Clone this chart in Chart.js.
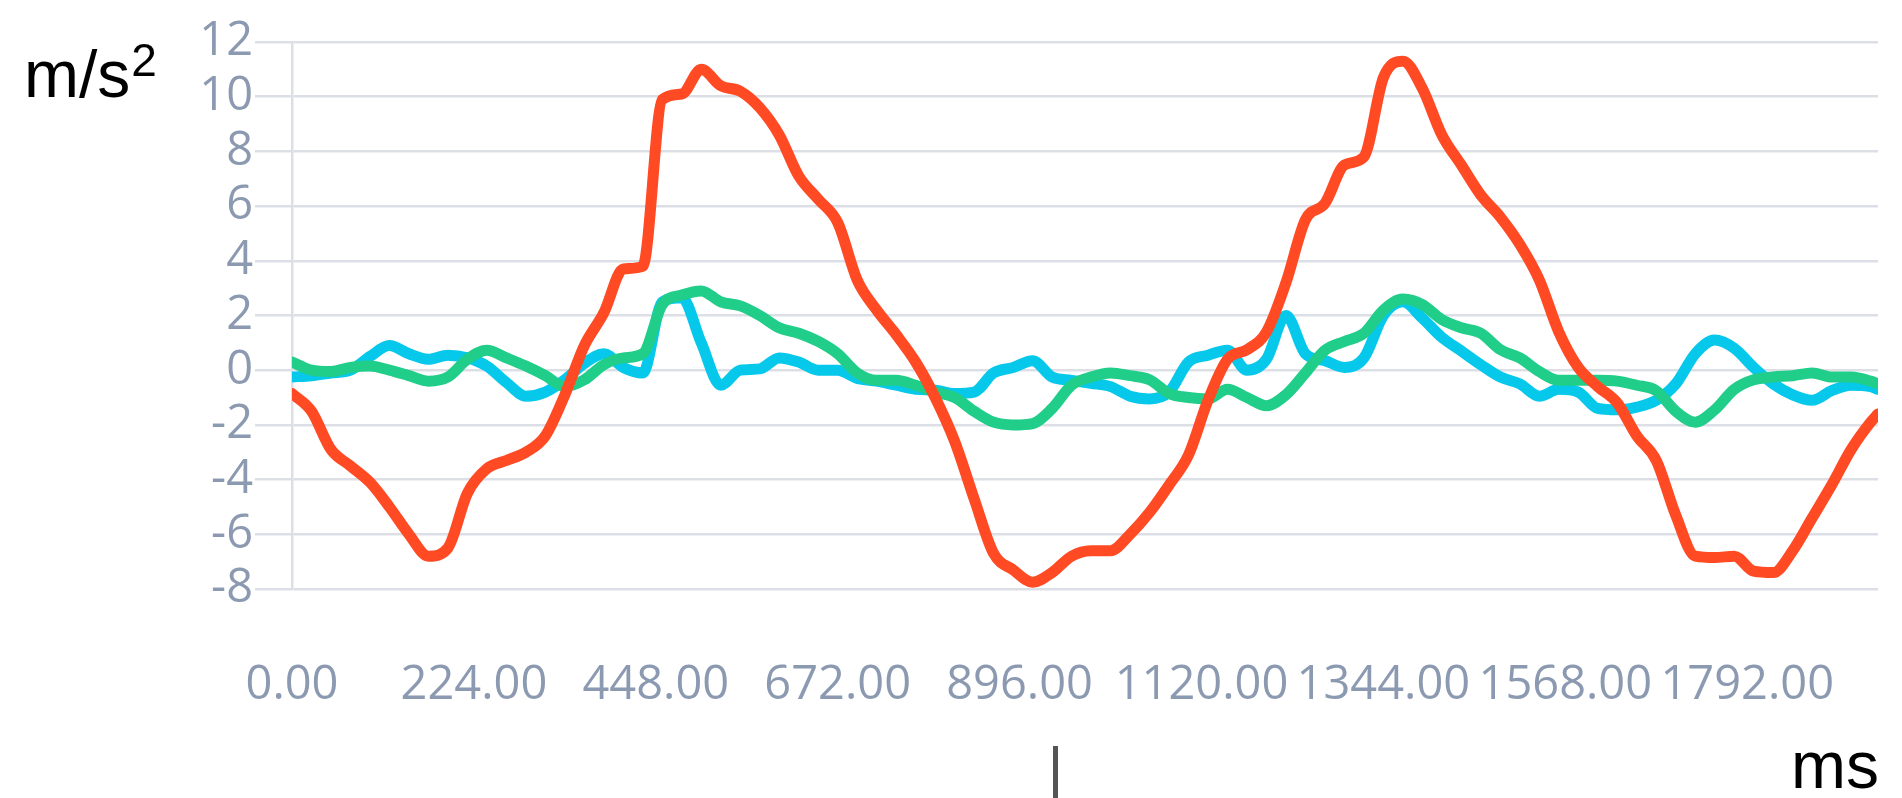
<!DOCTYPE html>
<html>
<head>
<meta charset="utf-8">
<title>Acceleration</title>
<script src="https://cdn.jsdelivr.net/npm/chart.js@4.4.1/dist/chart.umd.min.js"></script>
<style>
    html, body { margin: 0; padding: 0; background: #fff; overflow: hidden; }
    #wrap { position: relative; width: 1902px; height: 798px; }
    #graph { position: absolute; left: 0; top: 0; }
    .unit {
        position: absolute;
        font-family: "Liberation Sans", Arial, sans-serif;
        font-size: 66px;
        line-height: 1;
        color: #000;
        white-space: nowrap;
    }
    .unit .sup { font-size: 46px; position: relative; top: -21px; margin-left: 1px; }
    #unitY { left: 24px; top: 41px; }
    #unitX { left: 1791px; top: 732px; }
    #caret { position: absolute; left: 1053px; top: 746px; width: 5px; height: 52px; background: #555; }
</style>
</head>
<body>
<div id="wrap">
    <canvas id="graph" width="1902" height="798"></canvas>
    <div class="unit" id="unitY">m/s<span class="sup">2</span></div>
    <div class="unit" id="unitX">ms</div>
    <div id="caret"></div>
</div>
<script>
// sample times (ms)
const timesMs = [0, 24, 48, 72, 96, 120, 144, 168, 192, 216, 240, 264, 288, 312, 336, 360, 384, 408, 432, 456,
    480, 504, 528, 552, 576, 600, 624, 648, 672, 696, 720, 744, 768, 792, 816, 840, 864, 888, 912, 936,
    960, 984, 1008, 1032, 1056, 1080, 1104, 1128, 1152, 1176, 1200, 1224, 1248, 1272, 1296, 1320, 1344, 1368, 1392, 1416,
    1440, 1464, 1488, 1512, 1536, 1560, 1584, 1608, 1632, 1656, 1680, 1704, 1728, 1752, 1776, 1800, 1824, 1848, 1872, 1896,
    1920, 1944, 1953];

// acceleration in m/s2
const accZ = [-0.85, -1.5, -2.9, -3.5, -4.1, -5.0, -6.0, -6.8, -6.5, -4.5,
    -3.6, -3.3, -3.0, -2.4, -0.9, 0.9, 2.1, 3.7, 3.8, 9.9,
    10.1, 11.0, 10.4, 10.2, 9.6, 8.6, 7.1, 6.25, 5.4, 3.3,
    2.2, 1.3, 0.3, -1.0, -2.6, -4.7, -6.7, -7.3, -7.75, -7.4,
    -6.8, -6.6, -6.6, -6.0, -5.2, -4.2, -3.1, -1.1, 0.4, 0.75,
    1.4, 3.2, 5.5, 6.1, 7.5, 7.8, 10.7, 11.3, 10.3, 8.6,
    7.5, 6.4, 5.6, 4.6, 3.3, 1.4, 0.1, -0.6, -1.2, -2.4,
    -3.3, -5.3, -6.8, -6.85, -6.8, -7.35, -7.4, -6.6, -5.4, -4.2,
    -2.9, -1.9, -1.6];

const accX = [-0.25, -0.2, -0.1, 0.0, 0.5, 0.9, 0.6, 0.4, 0.55, 0.45,
    0.15, -0.45, -0.95, -0.8, -0.35, 0.25, 0.6, 0.1, -0.1, 2.5,
    2.65, 1.0, -0.55, 0.0, 0.05, 0.45, 0.3, 0.0, 0.0, -0.3,
    -0.4, -0.55, -0.7, -0.73, -0.85, -0.8, -0.1, 0.1, 0.35, -0.25,
    -0.37, -0.48, -0.6, -0.95, -1.05, -0.8, 0.3, 0.55, 0.73, 0.0,
    0.4, 2.0, 0.6, 0.35, 0.1, 0.45, 2.0, 2.5, 1.9, 1.2,
    0.7, 0.2, -0.25, -0.5, -0.95, -0.7, -0.8, -1.4, -1.45, -1.35,
    -1.1, -0.5, 0.6, 1.1, 0.8, 0.1, -0.5, -0.9, -1.1, -0.75,
    -0.55, -0.6, -0.7];

const accY = [0.3, 0.0, -0.05, 0.1, 0.15, 0.0, -0.2, -0.4, -0.25, 0.4,
    0.73, 0.45, 0.15, -0.2, -0.6, -0.35, 0.2, 0.45, 0.6, 2.4,
    2.75, 2.9, 2.5, 2.35, 2.0, 1.55, 1.35, 1.05, 0.6, -0.1,
    -0.37, -0.37, -0.55, -0.8, -1.0, -1.5, -1.9, -2.0, -1.95, -1.4,
    -0.55, -0.25, -0.1, -0.2, -0.35, -0.85, -1.0, -1.05, -0.7, -1.0,
    -1.3, -0.9, -0.1, 0.73, 1.05, 1.35, 2.2, 2.6, 2.4, 1.85,
    1.55, 1.35, 0.75, 0.45, -0.05, -0.37, -0.37, -0.37, -0.4, -0.55,
    -0.75, -1.5, -1.9, -1.45, -0.7, -0.35, -0.25, -0.2, -0.1, -0.25,
    -0.25, -0.4, -0.5];

const yTicks = { min: -8, max: 12, step: 2 };
const xTicks = { min: 0, max: 1953, step: 224 };

const gridColor = '#dcdfe6';
const tickColor = '#8c9ab1';

function toPoints(values) {
    return values.map((v, i) => ({ x: timesMs[i], y: v }));
}

function lineSet(label, values, color) {
    return {
        label: label,
        data: toPoints(values),
        borderColor: color,
        borderWidth: 11,
        pointRadius: 0,
        fill: false,
        cubicInterpolationMode: 'monotone',
        borderCapStyle: 'round',
        borderJoinStyle: 'round'
    };
}

function drawChart() {
    const ctx = document.getElementById('graph').getContext('2d');
    new Chart(ctx, {
        type: 'line',
        data: {
            // first dataset ends up on top
            datasets: [
                lineSet('z', accZ, '#ff4a24'),
                lineSet('y', accY, '#20ce8a'),
                lineSet('x', accX, '#06c8ea')
            ]
        },
        options: {
            responsive: false,
            animation: false,
            devicePixelRatio: 1,
            layout: { padding: { top: 42, right: 0, bottom: 0, left: 0 } },
            plugins: {
                legend: { display: false },
                tooltip: { enabled: false }
            },
            scales: {
                x: {
                    type: 'linear',
                    min: xTicks.min,
                    max: xTicks.max,
                    grid: { display: false, drawTicks: false },
                    border: { display: false },
                    ticks: {
                        stepSize: xTicks.step,
                        includeBounds: false,
                        autoSkip: false,
                        maxRotation: 0,
                        padding: 68,
                        color: tickColor,
                        font: { family: '"Open Sans"', size: 47 },
                        callback: v => v.toFixed(2)
                    },
                    afterFit: scale => { scale.height = 209; }
                },
                y: {
                    min: yTicks.min,
                    max: yTicks.max,
                    grid: { color: gridColor, lineWidth: 2.5, tickLength: 37 },
                    border: { display: true, color: gridColor, width: 2.5 },
                    ticks: {
                        stepSize: yTicks.step,
                        autoSkip: false,
                        padding: 2,
                        color: tickColor,
                        font: { family: '"Open Sans"', size: 47 },
                        callback: v => String(v)
                    },
                    afterFit: scale => { scale.width = 292; }
                }
            }
        }
    });
}

document.fonts.load('47px "Open Sans"').then(drawChart, drawChart);
</script>
</body>
</html>
